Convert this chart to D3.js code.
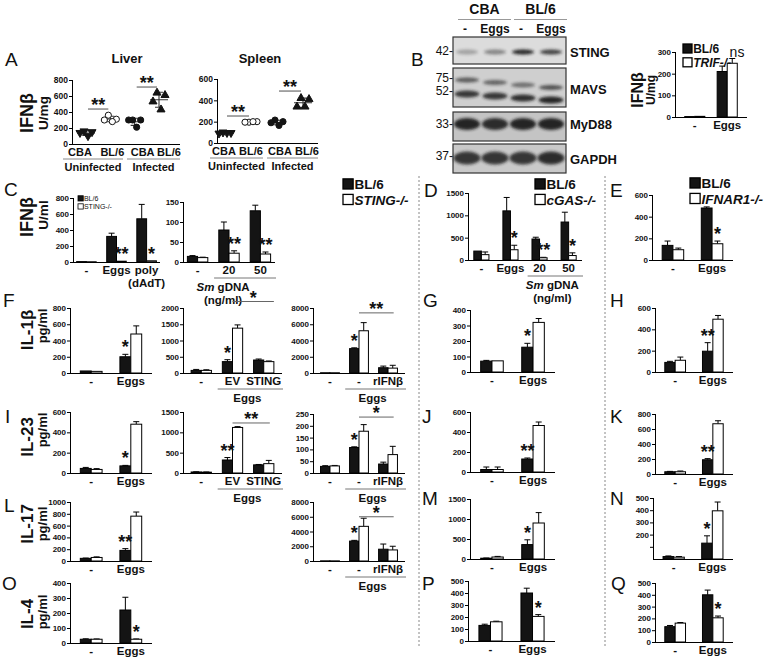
<!DOCTYPE html>
<html>
<head>
<meta charset="utf-8">
<script src="https://cdn.jsdelivr.net/npm/d3@7"></script>
<style>
body { margin: 0; background: #fff; }
svg text { font-family: "Liberation Sans", Arial, sans-serif; fill: #111; }
.yax text { font-size: 8px; font-weight: bold; }
.yax path, .yax line { stroke: #000; }
.cat { font-size: 11.5px; font-weight: bold; }
.letter { font-size: 19px; }
.star { font-size: 18px; font-weight: bold; }
</style>
</head>
<body>
<svg id="fig" width="768" height="660"></svg>
<script>
// ---------- A: IFNb in tissue (individual mice) ----------
var aCats = ['CBA', 'BL/6', 'CBA', 'BL/6'];
var aGroups = ['Uninfected', 'Infected'];
var liverPts = [[160, 150, 140, 100], [360, 310, 300, 280], [300, 300, 300, 210], [640, 610, 530, 430]];
var spleenPts = [[100, 95, 90, 95], [195, 200, 195, 200], [215, 200, 190, 165], [420, 410, 340, 340]];

// ---------- B: western blot + IFNb ----------
var blotLanes = ['-', 'Eggs', '-', 'Eggs'];
var blotStrains = ['CBA', 'BL/6'];
var stingBand = [0.3, 0.45, 0.95, 0.8];
var mavsTop = [0.65, 0.6, 0.55, 0.7];
var mavsLow = [0.85, 0.85, 0.9, 0.95];
var myd88Band = [0.95, 0.9, 0.95, 0.95];
var gapdhBand = [0.85, 0.85, 0.85, 0.9];
var bLabels = ['-', 'Eggs'];
var bBl6 = [2, 210], bBl6Err = [0, 25];
var bTrif = [3, 248], bTrifErr = [0, 22];

// ---------- C ----------
var c1Labels = ['-', 'Eggs', 'poly'];
var c1Bl6 = [5, 320, 540], c1Bl6Err = [0, 40, 180];
var c1Sting = [3, 10, 15], c1StingErr = [0, 0, 0];
var c2Labels = ['-', '20', '50'];
var c2Bl6 = [14, 80, 128], c2Bl6Err = [2, 20, 14];
var c2Sting = [11, 22, 20], c2StingErr = [1, 6, 5];

// ---------- D / E ----------
var dLabels = ['-', 'Eggs', '20', '50'];
var dBl6 = [200, 1100, 470, 850], dBl6Err = [0, 300, 40, 220];
var dCgas = [120, 230, 50, 100], dCgasErr = [60, 100, 10, 60];
var eLabels = ['-', 'Eggs'];
var eBl6 = [135, 480], eBl6Err = [40, 10];
var eIfnar = [95, 150], eIfnarErr = [15, 25];

// ---------- IL-1b ----------
var twoLabels = ['-', 'Eggs'];
var stingLabels = ['-', 'EV', 'STING'];
var rifnLabels = ['-', '-', 'rIFNβ'];
var f1Blk = [25, 200], f1BlkErr = [0, 30], f1Wht = [20, 480], f1WhtErr = [0, 100];
var f2Blk = [80, 350, 400], f2BlkErr = [30, 60, 30], f2Wht = [80, 1380, 350], f2WhtErr = [20, 100, 20];
var f3Blk = [30, 3000, 650], f3BlkErr = [0, 100, 200], f3Wht = [30, 5200, 600], f3WhtErr = [0, 1000, 350];
var gBlk = [70, 160], gBlkErr = [5, 25], gWht = [72, 320], gWhtErr = [0, 25];
var hBlk = [90, 195], hBlkErr = [10, 80], hWht = [110, 495], hWhtErr = [30, 35];

// ---------- IL-23 ----------
var i1Blk = [45, 70], i1BlkErr = [10, 5], i1Wht = [35, 480], i1WhtErr = [8, 25];
var i2Blk = [25, 320, 200], i2BlkErr = [5, 60, 10], i2Wht = [20, 1120, 230], i2WhtErr = [5, 20, 80];
var i3Blk = [28, 108, 38], i3BlkErr = [3, 3, 8], i3Wht = [30, 177, 78], i3WhtErr = [2, 28, 35];
var jBlk = [25, 130], jBlkErr = [25, 10], jWht = [25, 465], jWhtErr = [25, 35];
var kBlk = [30, 190], kBlkErr = [5, 15], kWht = [30, 670], kWhtErr = [10, 40];

// ---------- IL-17 ----------
var l1Blk = [45, 180], l1BlkErr = [5, 30], l1Wht = [60, 760], l1WhtErr = [10, 70];
var l2Blk = [20, 2700, 1600], l2BlkErr = [0, 100, 700], l2Wht = [20, 4700, 1500], l2WhtErr = [0, 1100, 500];
var mBlk = [20, 360], mBlkErr = [5, 120], mWht = [50, 900], mWhtErr = [15, 260];
var nBlk = [20, 130], nBlkErr = [5, 60], nWht = [15, 395], nWhtErr = [5, 72];

// ---------- IL-4 ----------
var oBlk = [25, 220], oBlkErr = [3, 85], oWht = [25, 25], oWhtErr = [2, 2];
var pBlk = [130, 400], pBlkErr = [10, 40], pWht = [160, 205], pWhtErr = [5, 15];
var qBlk = [130, 400], qBlkErr = [10, 40], qWht = [160, 205], qWhtErr = [5, 15];


var svg = d3.select('#fig');
var fmt = d3.format('d');

function letter(t, x, y) {
  svg.append('text').attr('class', 'letter').attr('x', x).attr('y', y).text(t);
}

function yLabel(x, yc, text, size) {
  svg.append('text')
    .attr('transform', 'translate(' + x + ',' + yc + ') rotate(-90)')
    .attr('text-anchor', 'middle')
    .style('font-size', size + 'px')
    .style('font-weight', 'bold')
    .text(text);
}

function catText(g, x, y, t) {
  var el = g.append('text').attr('class', 'cat').attr('x', x).attr('y', y).attr('text-anchor', 'middle');
  if (t === 'Sm gDNA') {
    el.append('tspan').style('font-style', 'italic').text('Sm');
    el.append('tspan').text(' gDNA');
  } else {
    el.text(t);
  }
}

function legend(x, y, names, size) {
  names.forEach(function (n, i) {
    svg.append('rect').attr('x', x).attr('y', y + i * size * 1.15 - size * 0.75)
      .attr('width', size * 0.75).attr('height', size * 0.75)
      .attr('fill', i === 0 ? '#141414' : '#fff').attr('stroke', '#000').attr('stroke-width', size > 10 ? 1.3 : 0.8);
    svg.append('text').attr('x', x + size * 0.85).attr('y', y + i * size * 1.15)
      .style('font-size', size + 'px').style('font-weight', size > 10 ? 'bold' : 'normal')
      .style('font-style', i === 0 ? 'normal' : (size > 10 ? 'italic' : 'normal'))
      .text(n);
  });
}

function barPanel(p) {
  var n = p.labels.length;
  var g = svg.append('g');
  var y = d3.scaleLinear().domain([0, p.max]).range([p.bot, p.top]);
  var x = d3.scaleBand().domain(d3.range(n)).range([p.ax, p.ax2])
    .paddingInner(p.pi != null ? p.pi : (n === 2 ? 0.45 : 0.35))
    .paddingOuter(p.po != null ? p.po : 0.26);
  var s = d3.scaleBand().domain([0, 1]).range([0, x.bandwidth()]);

  g.append('g').attr('class', 'yax').attr('transform', 'translate(' + p.ax + ',0)')
    .call(d3.axisLeft(y).tickValues(p.ticks).tickSize(3).tickSizeOuter(0).tickPadding(1)
      .tickFormat(function (d) { return p.hide && p.hide.indexOf(d) >= 0 ? '' : fmt(d); }));
  g.select('.yax .domain').attr('d', 'M0.5,' + p.bot + 'V' + p.top);
  g.append('line').attr('x1', p.ax).attr('x2', p.ax2).attr('y1', p.bot + 0.5).attr('y2', p.bot + 0.5).attr('stroke', '#000');

  var series = [[p.blk, p.blkE, '#141414'], [p.wht, p.whtE, '#fff']];
  function cx(i, k) { return x(i) + s(k) + s.bandwidth() / 2; }
  series.forEach(function (ser, k) {
    var rows = ser[0].map(function (v, i) { return {i: i, v: v, e: ser[1][i]}; });
    g.selectAll(null).data(rows.filter(function (d) { return d.e > 0; })).enter().append('path')
      .attr('d', function (d) {
        var c = cx(d.i, k), y0 = y(d.v), y1 = y(d.v + d.e);
        return 'M' + c + ',' + y0 + 'V' + y1 + 'M' + (c - 3) + ',' + y1 + 'H' + (c + 3);
      })
      .attr('stroke', '#000').attr('fill', 'none');
    g.selectAll(null).data(rows).enter().append('rect')
      .attr('x', function (d) { return x(d.i) + s(k); })
      .attr('y', function (d) { return y(d.v); })
      .attr('width', s.bandwidth())
      .attr('height', function (d) { return p.bot - y(d.v); })
      .attr('fill', ser[2]).attr('stroke', '#000').attr('stroke-width', 1);
  });

  (p.stars || []).forEach(function (st) {
    var ser = series[st[1]], top = ser[0][st[0]] + ser[1][st[0]];
    g.append('text').attr('class', 'star').attr('text-anchor', 'middle')
      .attr('x', cx(st[0], st[1])).attr('y', y(top) - 1).text(st[2]);
  });
  if (p.bracket) {
    var b = p.bracket, x1 = x(b[0]) + x.bandwidth() / 2, x2 = x(b[1]) + x.bandwidth() * (b[4] || 0.8);
    g.append('line').attr('x1', x1).attr('x2', x2).attr('y1', y(b[3])).attr('y2', y(b[3])).attr('stroke', '#666');
    g.append('text').attr('class', 'star').attr('text-anchor', 'middle')
      .attr('x', (x1 + x2) / 2).attr('y', y(b[3]) + 2).text(b[2]);
  }

  p.labels.forEach(function (l, i) { catText(g, x(i) + x.bandwidth() / 2, p.bot + 12, l); });
  (p.labels2 || []).forEach(function (l, i) { if (l) catText(g, x(i) + x.bandwidth() / 2, p.bot + 25, l); });
  if (p.group) {
    var gx1 = x(p.group.from) - x.step() * 0.15, gx2 = p.ax2 + 1, gy = p.bot + 16;
    g.append('line').attr('x1', gx1).attr('x2', gx2).attr('y1', gy).attr('y2', gy).attr('stroke', '#777');
    p.group.text.forEach(function (t, i) { catText(g, (gx1 + gx2) / 2 + (p.group.dx || -3), gy + 13 + i * 13, t); });
  }
  return {x: x, y: y, s: s};
}

function scatterPanel(p) {
  var g = svg.append('g');
  var y = d3.scaleLinear().domain([0, p.max]).range([p.bot, p.top]);
  var x = d3.scalePoint().domain(d3.range(4)).range(p.pts);
  var jit = d3.scalePoint().domain(d3.range(4)).range([-6, 6]);
  g.append('g').attr('class', 'yax').attr('transform', 'translate(' + p.ax + ',0)')
    .call(d3.axisLeft(y).tickValues(p.ticks).tickSize(3).tickSizeOuter(0).tickPadding(1).tickFormat(fmt))
    .selectAll('text').style('font-size', '8.5px');
  g.select('.yax .domain').attr('d', 'M0.5,' + p.bot + 'V' + p.top);
  g.append('line').attr('x1', p.ax).attr('x2', p.ax2).attr('y1', p.bot + 0.5).attr('y2', p.bot + 0.5).attr('stroke', '#000');

  var shapes = [
    {t: d3.symbolTriangle, r: 180, fill: '#141414'},
    {t: d3.symbolCircle, r: 0, fill: '#fff'},
    {t: d3.symbolCircle, r: 0, fill: '#141414'},
    {t: d3.symbolTriangle, r: 0, fill: '#141414'}
  ];
  var order = [1, 3, 0, 2];
  p.data.forEach(function (vals, gi) {
    var m = d3.mean(vals), sd = d3.deviation(vals), c = x(gi);
    g.append('path').attr('fill', 'none').attr('stroke', '#333').attr('stroke-width', 1.1)
      .attr('d', 'M' + (c - 9) + ',' + y(m) + 'H' + (c + 9) +
        'M' + c + ',' + y(m - sd) + 'V' + y(m + sd) +
        'M' + (c - 4) + ',' + y(m - sd) + 'H' + (c + 4) +
        'M' + (c - 4) + ',' + y(m + sd) + 'H' + (c + 4));
    var sh = shapes[gi];
    g.selectAll(null).data(vals).enter().append('path')
      .attr('d', d3.symbol().type(sh.t).size(sh.t === d3.symbolCircle ? 30 : 28))
      .attr('transform', function (d, i) {
        return 'translate(' + (c + jit(order[i])) + ',' + y(d) + ') rotate(' + sh.r + ')';
      })
      .attr('fill', sh.fill).attr('stroke', '#141414').attr('stroke-width', 1);
  });
  p.sig.forEach(function (sg) {
    var x1 = x(sg[0]) + 2, x2 = x(sg[1]) - 2, yy = y(sg[2]);
    g.append('line').attr('x1', x1).attr('x2', x2).attr('y1', yy).attr('y2', yy).attr('stroke', '#777').attr('stroke-width', 1.3);
    g.append('text').attr('class', 'star').attr('text-anchor', 'middle').attr('x', (x1 + x2) / 2).attr('y', yy + 2).text('**');
  });
  aCats.forEach(function (c, i) {
    g.append('text').attr('class', 'cat').style('font-size', '11px').attr('x', x(i) + p.lab[i]).attr('y', p.bot + 12).attr('text-anchor', 'middle').text(c);
  });
  aGroups.forEach(function (t, i) {
    var x1 = p.gl[i][0], x2 = p.gl[i][1];
    g.append('line').attr('x1', x1).attr('x2', x2).attr('y1', p.bot + 15).attr('y2', p.bot + 15).attr('stroke', '#888');
    g.append('text').attr('class', 'cat').style('font-size', '11px').attr('x', (x1 + x2) / 2).attr('y', p.bot + 27).attr('text-anchor', 'middle').text(t);
  });
  svg.append('text').attr('x', p.titleX).attr('y', 63).attr('text-anchor', 'middle')
    .style('font-size', '13px').style('font-weight', 'bold').text(p.title);
}

// ================= A =================
letter('A', 5, 66);
yLabel(33, 113, 'IFNβ', 18);
yLabel(48, 113, 'U/mg', 13.5);
scatterPanel({ax: 72, ax2: 180, top: 80, bot: 144, max: 800, ticks: [0, 200, 400, 600, 800],
  pts: [86, 159], data: liverPts, sig: [[0, 1, 437], [2, 3, 712]], lab: [-6, 2, 8, 10],
  gl: [[63, 123], [127, 180]], title: 'Liver', titleX: 127});
scatterPanel({ax: 217, ax2: 318, top: 79, bot: 143, max: 600, ticks: [0, 200, 400, 600],
  pts: [225, 303], data: spleenPts, sig: [[0, 1, 253], [2, 3, 487]], lab: [-1, 0, 3, 4],
  gl: [[210, 263], [267, 318]], title: 'Spleen', titleX: 260});

// ================= B =================
letter('B', 411, 66);
(function () {
  var g = svg.append('g');
  var defs = svg.append('defs');
  defs.append('filter').attr('id', 'blur').attr('x', '-30%').attr('y', '-60%').attr('width', '160%').attr('height', '220%')
    .append('feGaussianBlur').attr('stdDeviation', 1.6);
  var lane = d3.scalePoint().domain(d3.range(4)).range([467, 551]);
  var boxes = [
    {y0: 37, y1: 64, bg: '#dcdcdc', name: 'STING', ly: 57, bands: [{v: stingBand, y: 52, h: 5, w: 22}]},
    {y0: 68, y1: 107, bg: '#cfcfcf', name: 'MAVS', ly: 94, bands: [{v: mavsTop, y: 80, h: 5, w: 24, tilt: 2.5}, {v: mavsLow, y: 94, h: 7, w: 25, tilt: 2}]},
    {y0: 112, y1: 141, bg: '#c4c4c4', name: 'MyD88', ly: 129, bands: [{v: myd88Band, y: 124, h: 12, w: 26}]},
    {y0: 144, y1: 173, bg: '#c9c9c9', name: 'GAPDH', ly: 164, bands: [{v: gapdhBand, y: 158, h: 13, w: 27}]}
  ];
  boxes.forEach(function (bx) {
    g.append('rect').attr('x', 453).attr('y', bx.y0).attr('width', 113).attr('height', bx.y1 - bx.y0)
      .attr('fill', bx.bg).attr('stroke', '#333').attr('stroke-width', 1.2);
    bx.bands.forEach(function (bd) {
      g.selectAll(null).data(bd.v).enter().append('ellipse')
        .attr('cx', function (d, i) { return lane(i); })
        .attr('cy', function (d, i) { return bd.y + (bd.tilt || 0) * i; })
        .attr('rx', bd.w / 2).attr('ry', bd.h / 2)
        .attr('fill', '#1a1a1a').attr('opacity', function (d) { return d; })
        .attr('filter', 'url(#blur)');
    });
    g.append('text').attr('x', 570).attr('y', bx.ly).style('font-size', '13px').style('font-weight', 'bold').text(bx.name);
  });
  [['42-', 55], ['75-', 82], ['52-', 95], ['33-', 128], ['37-', 160]].forEach(function (m) {
    g.append('text').attr('x', 453).attr('y', m[1]).attr('text-anchor', 'end').style('font-size', '12px').text(m[0]);
  });
  blotStrains.forEach(function (s, i) {
    var x1 = lane(i * 2) - 9, x2 = lane(i * 2 + 1) + 16;
    g.append('text').attr('x', (x1 + x2) / 2).attr('y', 14).attr('text-anchor', 'middle')
      .style('font-size', '14px').style('font-weight', 'bold').text(s);
    g.append('line').attr('x1', x1).attr('x2', x2).attr('y1', 19.5).attr('y2', 19.5).attr('stroke', '#999');
  });
  blotLanes.forEach(function (l, i) {
    g.append('text').attr('x', lane(i) + (i % 2 ? 0 : -2)).attr('y', 33).attr('text-anchor', 'middle')
      .style('font-size', '12px').style('font-weight', 'bold').text(l);
  });
})();
yLabel(643, 90, 'IFNβ', 16);
yLabel(655, 90, 'U/mg', 12);
barPanel({ax: 675, ax2: 747, top: 52, bot: 117, max: 300, ticks: [0, 100, 200, 300],
  labels: bLabels, blk: bBl6, blkE: bBl6Err, wht: bTrif, whtE: bTrifErr, pi: 0.38, po: 0.3});
svg.append('text').attr('x', 737).attr('y', 57).attr('text-anchor', 'middle').style('font-size', '14px').text('ns');
legend(683, 53, ['BL/6', 'TRIF-/-'], 12);

// ================= C =================
letter('C', 4, 196);
yLabel(33, 217, 'IFNβ', 18);
yLabel(48, 215, 'U/ml', 13.5);
barPanel({ax: 73, ax2: 160, top: 198, bot: 262, max: 800, ticks: [0, 200, 400, 600, 800],
  labels: c1Labels, labels2: ['', '', '(dAdT)'], blk: c1Bl6, blkE: c1Bl6Err, wht: c1Sting, whtE: c1StingErr,
  po: 0.12, stars: [[1, 1, '**'], [2, 1, '*']]});
legend(78, 201, ['BL/6', 'STING-/-'], 7);
barPanel({ax: 183, ax2: 275, top: 202, bot: 262, max: 150, ticks: [0, 50, 100, 150],
  labels: c2Labels, blk: c2Bl6, blkE: c2Bl6Err, wht: c2Sting, whtE: c2StingErr, po: 0.14,
  stars: [[1, 1, '**'], [2, 1, '**']], group: {from: 1, text: ['Sm gDNA', '(ng/ml)'], dx: -22}});
legend(343, 189, ['BL/6', 'STING-/-'], 13.5);

// ================= D / E =================
letter('D', 424, 197);
barPanel({ax: 468, ax2: 582, top: 193, bot: 260, max: 1500, ticks: [0, 500, 1000, 1500],
  labels: dLabels, blk: dBl6, blkE: dBl6Err, wht: dCgas, whtE: dCgasErr, pi: 0.48, po: 0.2,
  stars: [[1, 1, '*'], [2, 1, '**'], [3, 1, '*']], group: {from: 2, text: ['Sm gDNA', '(ng/ml)']}});
legend(535, 189, ['BL/6', 'cGAS-/-'], 13.5);
letter('E', 610, 197);
barPanel({ax: 652, ax2: 733, top: 195, bot: 260, max: 600, ticks: [0, 200, 400, 600],
  labels: eLabels, blk: eBl6, blkE: eBl6Err, wht: eIfnar, whtE: eIfnarErr, stars: [[1, 1, '*']]});
legend(690, 188, ['BL/6', 'IFNAR1-/-'], 13.5);

// ================= F / G / H =================
letter('F', 3, 307);
yLabel(33, 330, 'IL-1β', 17);
yLabel(47, 326, 'pg/ml', 13);
barPanel({ax: 70, ax2: 152, top: 308, bot: 373, max: 800, ticks: [0, 200, 400, 600, 800],
  labels: twoLabels, blk: f1Blk, blkE: f1BlkErr, wht: f1Wht, whtE: f1WhtErr, stars: [[1, 0, '*']]});
barPanel({ax: 183, ax2: 282, top: 308, bot: 373, max: 2000, ticks: [0, 500, 1000, 1500, 2000],
  labels: stingLabels, blk: f2Blk, blkE: f2BlkErr, wht: f2Wht, whtE: f2WhtErr, stars: [[1, 0, '*']],
  bracket: [1, 2, '*', 2200, 1], group: {from: 1, text: ['Eggs']}});
barPanel({ax: 313, ax2: 405, top: 308, bot: 373, max: 8000, ticks: [0, 2000, 4000, 6000, 8000],
  labels: rifnLabels, blk: f3Blk, blkE: f3BlkErr, wht: f3Wht, whtE: f3WhtErr, stars: [[1, 0, '*']],
  bracket: [1, 2, '**', 7400], group: {from: 1, text: ['Eggs']}});
letter('G', 423, 307);
barPanel({ax: 470, ax2: 555, top: 310, bot: 372, max: 400, ticks: [0, 100, 200, 300, 400],
  labels: twoLabels, blk: gBlk, blkE: gBlkErr, wht: gWht, whtE: gWhtErr, stars: [[1, 0, '*']]});
letter('H', 610, 307);
barPanel({ax: 655, ax2: 733, top: 308, bot: 372, max: 600, ticks: [0, 200, 400, 600],
  labels: twoLabels, blk: hBlk, blkE: hBlkErr, wht: hWht, whtE: hWhtErr, stars: [[1, 0, '**']]});

// ================= I / J / K =================
letter('I', 5, 423);
yLabel(33, 437, 'IL-23', 17);
yLabel(47, 430, 'pg/ml', 13);
barPanel({ax: 70, ax2: 152, top: 412, bot: 473, max: 600, ticks: [0, 200, 400, 600],
  labels: twoLabels, blk: i1Blk, blkE: i1BlkErr, wht: i1Wht, whtE: i1WhtErr, stars: [[1, 0, '*']]});
barPanel({ax: 183, ax2: 282, top: 412, bot: 473, max: 1500, ticks: [0, 500, 1000, 1500],
  labels: stingLabels, blk: i2Blk, blkE: i2BlkErr, wht: i2Wht, whtE: i2WhtErr, stars: [[1, 0, '**']],
  bracket: [1, 2, '**', 1230], group: {from: 1, text: ['Eggs']}});
barPanel({ax: 313, ax2: 405, top: 414, bot: 473, max: 250, ticks: [0, 50, 100, 150, 200, 250],
  labels: rifnLabels, blk: i3Blk, blkE: i3BlkErr, wht: i3Wht, whtE: i3WhtErr, stars: [[1, 0, '*']],
  bracket: [1, 2, '*', 237], group: {from: 1, text: ['Eggs']}});
letter('J', 422, 423);
barPanel({ax: 470, ax2: 555, top: 412, bot: 472, max: 600, ticks: [0, 200, 400, 600],
  labels: twoLabels, blk: jBlk, blkE: jBlkErr, wht: jWht, whtE: jWhtErr, stars: [[1, 0, '**']]});
letter('K', 610, 423);
barPanel({ax: 655, ax2: 733, top: 414, bot: 474, max: 800, ticks: [0, 200, 400, 600, 800],
  labels: twoLabels, blk: kBlk, blkE: kBlkErr, wht: kWht, whtE: kWhtErr, stars: [[1, 0, '**']]});

// ================= L / M / N =================
letter('L', 4, 512);
yLabel(33, 524, 'IL-17', 17);
yLabel(47, 524, 'pg/ml', 13);
barPanel({ax: 70, ax2: 152, top: 502, bot: 561, max: 1000, ticks: [0, 200, 400, 600, 800, 1000],
  labels: twoLabels, blk: l1Blk, blkE: l1BlkErr, wht: l1Wht, whtE: l1WhtErr, stars: [[1, 0, '**']]});
barPanel({ax: 313, ax2: 405, top: 502, bot: 561, max: 8000, ticks: [0, 2000, 4000, 6000, 8000],
  labels: rifnLabels, blk: l2Blk, blkE: l2BlkErr, wht: l2Wht, whtE: l2WhtErr, stars: [[1, 0, '*']],
  bracket: [1, 2, '*', 6000], group: {from: 1, text: ['Eggs']}});
letter('M', 422, 505);
barPanel({ax: 470, ax2: 555, top: 499, bot: 559, max: 1500, ticks: [0, 500, 1000, 1500],
  labels: twoLabels, blk: mBlk, blkE: mBlkErr, wht: mWht, whtE: mWhtErr, stars: [[1, 0, '*']]});
letter('N', 610, 505);
barPanel({ax: 653, ax2: 733, top: 498, bot: 559, max: 500, ticks: [100, 200, 300, 400, 500], hide: [100],
  labels: twoLabels, blk: nBlk, blkE: nBlkErr, wht: nWht, whtE: nWhtErr, stars: [[1, 0, '*']]});

// ================= O / P / Q =================
letter('O', 2, 590);
yLabel(33, 614, 'IL-4', 17);
yLabel(47, 612, 'pg/ml', 13);
barPanel({ax: 70, ax2: 152, top: 583, bot: 643, max: 400, ticks: [0, 100, 200, 300, 400],
  labels: twoLabels, blk: oBlk, blkE: oBlkErr, wht: oWht, whtE: oWhtErr, stars: [[1, 1, '*']]});
letter('P', 422, 590);
barPanel({ax: 468, ax2: 555, top: 581, bot: 641, max: 500, ticks: [0, 100, 200, 300, 400, 500],
  labels: twoLabels, blk: pBlk, blkE: pBlkErr, wht: pWht, whtE: pWhtErr, stars: [[1, 1, '*']]});
letter('Q', 611, 590);
barPanel({ax: 655, ax2: 733, top: 583, bot: 642, max: 500, ticks: [0, 100, 200, 300, 400, 500],
  labels: twoLabels, blk: qBlk, blkE: qBlkErr, wht: qWht, whtE: qWhtErr, stars: [[1, 1, '*']]});

// dashed column separators
[419, 605].forEach(function (x) {
  svg.append('line').attr('x1', x).attr('x2', x).attr('y1', 176).attr('y2', 646)
    .attr('stroke', '#888').attr('stroke-dasharray', '2,2');
});
</script>
</body>
</html>
